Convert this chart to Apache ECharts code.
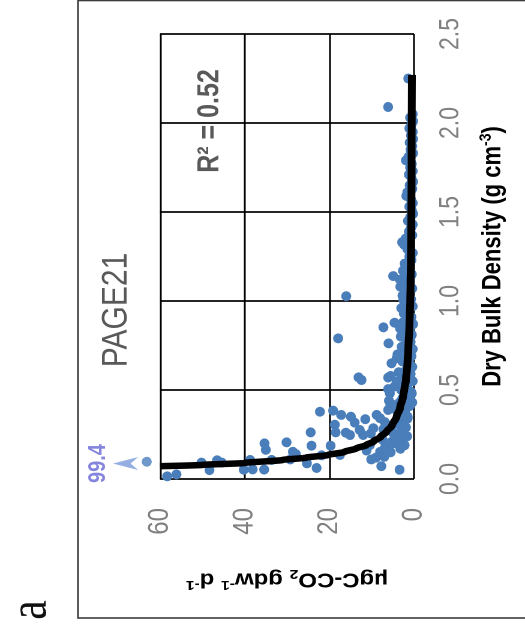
<!DOCTYPE html>
<html>
<head>
<meta charset="utf-8">
<script src="https://cdn.jsdelivr.net/npm/echarts@6/dist/echarts.min.js"></script>
<style>
  html, body { margin: 0; padding: 0; background: #fff; overflow: hidden; }
  #page { position: relative; width: 525px; height: 633px; overflow: hidden; background: #fff; }
  /* the figure is laid out landscape and turned a quarter turn counter-clockwise */
  #chart { position: absolute; left: 0; top: 0; width: 633px; height: 438px; transform-origin: 0 0; }
</style>
</head>
<body>
<div id="page"><div id="chart"></div></div>
<script>
// Soil samples: dry bulk density (g cm-3) and CO2 production (µgC-CO2 gdw-1 d-1)
const sampleDensity = [
  0.015, 0.026, 0.092, 0.050, 0.105, 0.092, 0.052, 0.107, 0.054, 0.200,
  0.164, 0.053, 0.107, 0.206, 0.153, 0.140, 0.110, 0.088, 0.262, 0.187,
  0.062, 0.378, 0.133, 0.187, 0.384, 0.305, 0.262, 0.135, 0.790, 1.027,
  0.260, 0.247, 0.350, 0.317, 0.275, 0.247, 0.336, 0.191, 0.110, 0.256,
  0.285, 0.360, 0.341, 0.153, 0.072, 0.125, 0.303, 0.388, 0.481, 0.200,
  0.416, 0.247, 0.052, 0.228, 0.322, 0.300, 0.425, 0.481, 0.360, 0.200,
  0.410, 0.336, 0.247,
  0.15, 0.17, 0.18, 0.19, 0.21, 0.22, 0.23, 0.24, 0.26, 0.27,
  0.28, 0.29, 0.31, 0.32, 0.33, 0.34, 0.37, 0.39, 0.40, 0.43,
  0.44, 0.46, 0.50, 0.52, 0.54, 0.60, 0.62, 0.66, 0.70, 0.72,
  0.80, 0.82, 0.88, 0.92, 0.96, 1.04, 1.12, 1.18, 0.12, 0.16,
  0.571, 0.556, 0.852, 0.878, 0.846, 0.762, 0.505, 0.570, 0.650, 0.678,
  0.743, 0.579, 0.547, 1.140, 1.080, 1.006, 1.315,
  2.250, 2.090,
  2.05, 2.03, 2.01, 1.99, 1.97, 1.95, 1.93, 1.91, 1.89, 1.87,
  1.85, 1.83, 1.81, 1.79, 1.77, 1.75, 1.73, 1.71, 1.69, 1.67,
  1.65, 1.63, 1.61, 1.59, 1.57, 1.55, 1.53, 1.51, 1.49, 1.47,
  1.45, 1.43, 1.41, 1.39, 1.37, 1.35, 1.33, 1.31, 1.29, 1.27,
  1.25, 1.23, 1.21, 1.19, 1.17, 1.15, 1.13, 1.11, 1.09, 1.07,
  1.05, 1.03, 1.01, 0.99, 0.97, 0.95, 0.93, 0.91, 0.89, 0.87,
  0.85, 0.83, 0.81, 0.79, 0.77, 0.75, 0.73, 0.71, 0.69, 0.67,
  0.65, 0.63, 0.61, 0.59, 0.57, 0.55, 0.53, 0.51, 0.49, 0.47,
  0.45, 0.43, 0.41, 0.39, 0.37, 0.35
];
const sampleFlux = [
  58.3, 56.1, 50.2, 48.3, 46.5, 45.4, 40.2, 38.7, 38.1, 35.3,
  35.0, 35.4, 33.6, 30.1, 28.6, 27.9, 29.2, 25.3, 24.4, 24.2,
  23.0, 22.2, 21.8, 19.7, 19.1, 18.7, 18.5, 17.5, 17.9, 16.0,
  16.1, 15.1, 14.9, 14.0, 12.8, 12.0, 11.5, 10.4, 10.1, 10.2,
  9.6, 8.8, 8.0, 8.0, 7.7, 7.0, 6.4, 6.1, 5.7, 4.9,
  4.9, 4.1, 3.4, 2.9, 2.5, 2.3, 1.7, 0.5, 17.2, 4.0,
  5.6, 2.6, 2.4,
  5.5, 3.2, 6.8, 2.2, 5.2, 7.4, 3.9, 1.6, 5.0, 3.0,
  7.2, 1.9, 4.4, 6.9, 3.6, 1.5, 3.1, 4.3, 2.2, 3.4,
  5.9, 1.4, 3.0, 4.6, 2.1, 3.6, 1.3, 2.7, 3.9, 1.9,
  3.1, 1.5, 2.6, 1.2, 3.0, 1.6, 3.3, 1.2, 9.0, 11.2,
  13.1, 12.4, 7.2, 4.6, 3.3, 6.0, 6.1, 6.1, 5.3, 4.1,
  2.9, 5.5, 4.1, 4.9, 3.2, 2.5, 2.3,
  1.35, 6.1,
  0.3, 0.9, 0.2, 0.6, 1.1, 0.3, 0.7, 0.2, 1.0, 0.4,
  0.8, 0.2, 1.3, 1.9, 0.5, 0.9, 0.3, 1.2, 0.6, 0.2,
  1.0, 0.4, 1.6, 1.8, 0.7, 0.3, 1.1, 0.5, 0.2, 0.9,
  1.4, 0.3, 0.7, 1.2, 0.4, 2.0, 2.8, 0.9, 1.5, 0.3,
  1.1, 0.6, 2.2, 1.4, 2.6, 0.5, 1.8, 0.9, 2.3, 0.4,
  1.3, 2.7, 0.7, 1.9, 0.3, 1.2, 2.4, 0.6, 1.6, 0.2,
  1.0, 2.1, 0.5, 1.4, 0.8, 2.2, 0.3, 1.7, 0.6, 2.5,
  1.1, 0.4, 1.9, 0.8, 2.6, 0.3, 1.5, 2.1, 0.7, 1.2,
  2.8, 0.4, 1.0, 2.0, 3.0, 1.5
];

// Fitted trend line
const trendDensity = [
  0.072, 0.079, 0.090, 0.107, 0.120, 0.135, 0.152, 0.172, 0.190, 0.210,
  0.237, 0.266, 0.300, 0.350, 0.400, 0.462, 0.500, 0.556, 0.630, 0.725,
  0.850, 1.000, 1.250, 1.570, 1.900, 2.270
];
const trendFlux = [
  60.0, 50.0, 40.0, 31.0, 25.5, 20.3, 16.5, 13.6, 11.3, 9.6,
  7.9, 6.5, 5.2, 4.1, 3.3, 2.6, 2.3, 1.9, 1.6, 1.35,
  1.1, 0.9, 0.7, 0.6, 0.55, 0.5
];

// Sample whose flux lies above the top of the flux axis
const offScaleDensity = [0.097];
const offScaleFlux = [99.4];

const densityTicks = [0.0, 0.5, 1.0, 1.5, 2.0, 2.5];
const fluxTicks = [0, 20, 40, 60];
const rSquared = 0.52;
const siteName = 'PAGE21';
const panelLetter = 'a';

// ---- layout (landscape frame before the quarter turn) ----
const W = 633;          // frame width  -> page height
const H = 438;          // frame height -> page width (stretched by K)
const K = 1.2;          // vertical stretch of the frame
const chartEl = document.getElementById('chart');
chartEl.style.transform = 'translate(0px, ' + W + 'px) rotate(-90deg) scaleY(' + K + ')';

const SANS = "'Liberation Sans', Arial, sans-serif";
const GRID = { left: 154, right: 34, top: 160 / K, bottom: H - 414 / K };
const FLUX_MAX = fluxTicks[fluxTicks.length - 1];
const DOT = 10;

const zip = (a, b) => a.map((v, i) => [v, b[i]]);

const chart = echarts.init(chartEl, null, { renderer: 'canvas', devicePixelRatio: 2 });

chart.setOption({
  animation: false,
  backgroundColor: 'transparent',
  grid: { left: GRID.left, right: GRID.right, top: GRID.top, bottom: GRID.bottom, containLabel: false },
  xAxis: {
    type: 'value',
    min: densityTicks[0],
    max: densityTicks[densityTicks.length - 1],
    interval: densityTicks[1] - densityTicks[0],
    axisLine: { show: false },
    axisTick: { show: false },
    axisLabel: {
      margin: 19,
      fontSize: 23,
      fontFamily: SANS,
      color: '#808080',
      formatter: v => v.toFixed(1)
    },
    splitLine: { show: true, lineStyle: { color: '#000', width: 1.7 } },
    name: '{t|Dry Bulk Density (g cm}{sup|-3}{t|)}',
    nameLocation: 'middle',
    nameGap: 53,
    nameTextStyle: {
      rich: {
        t: { fontSize: 22, fontWeight: 'bold', fontFamily: SANS, color: '#000', lineHeight: 26 },
        sup: { fontSize: 14, fontWeight: 'bold', fontFamily: SANS, color: '#000', verticalAlign: 'top', lineHeight: 26 }
      }
    }
  },
  yAxis: {
    type: 'value',
    min: fluxTicks[0],
    max: FLUX_MAX,
    interval: fluxTicks[1] - fluxTicks[0],
    axisLine: { show: false },
    axisTick: { show: false },
    axisLabel: {
      margin: 29,
      fontSize: 24,
      fontFamily: SANS,
      color: '#808080'
    },
    splitLine: { show: true, lineStyle: { color: '#000', width: 1.5 } },
    name: '{t|µgC-CO}{sub|2}{t| gdw}{sup|-1}{t| d}{sup|-1}',
    nameLocation: 'middle',
    nameGap: 88,
    nameTextStyle: {
      rich: {
        t: { fontSize: 20, fontWeight: 'bold', fontFamily: SANS, color: '#000', lineHeight: 24 },
        sub: { fontSize: 13, fontWeight: 'bold', fontFamily: SANS, color: '#000', verticalAlign: 'bottom', lineHeight: 24 },
        sup: { fontSize: 13, fontWeight: 'bold', fontFamily: SANS, color: '#000', verticalAlign: 'top', lineHeight: 24 }
      }
    }
  },
  series: [
    {
      name: 'samples',
      type: 'scatter',
      data: zip(sampleDensity, sampleFlux),
      symbol: 'circle',
      symbolSize: [DOT, DOT / K],
      itemStyle: { color: '#4A7EBB', opacity: 1 },
      z: 2
    },
    {
      name: 'trend',
      type: 'line',
      data: zip(trendDensity, trendFlux),
      smooth: 0.25,
      smoothMonotone: 'x',
      showSymbol: false,
      symbol: 'none',
      lineStyle: { color: '#000', width: 6.5, cap: 'butt', join: 'round' },
      z: 3
    },
    {
      // off-scale sample pinned just beyond the top of the flux axis
      name: 'off-scale',
      type: 'scatter',
      clip: false,
      data: zip(offScaleDensity, offScaleFlux.map(v => Math.min(v, FLUX_MAX))),
      symbol: 'circle',
      symbolSize: [DOT, DOT / K],
      symbolOffset: [0, -11],
      itemStyle: { color: '#4A7EBB' },
      z: 4
    },
    {
      name: 'off-scale arrow',
      type: 'scatter',
      clip: false,
      data: zip(offScaleDensity, offScaleFlux.map(v => Math.min(v, FLUX_MAX))),
      symbol: 'path://M10,0L20,20L10,14L0,20Z',
      symbolSize: [13, 21],
      symbolOffset: [-1.8, -28.7],
      itemStyle: { color: '#7B9BDC' },
      label: {
        show: true,
        position: 'top',
        distance: 2,
        formatter: p => offScaleFlux[p.dataIndex].toFixed(1),
        fontSize: 20,
        fontWeight: 'bold',
        fontFamily: SANS,
        color: '#6767D4'
      },
      z: 4
    }
  ],
  graphic: [
    {
      type: 'rect',
      silent: true,
      shape: { x: 15, y: 78 / K, width: 617.5, height: 600 },
      style: { fill: 'none', stroke: '#3c3c3c', lineWidth: 1.6 }
    },
    {
      type: 'text',
      silent: true,
      x: W - 310, y: 116.5 / K,
      style: {
        text: siteName, fontSize: 30, fontFamily: SANS, fill: '#595959',
        align: 'center', verticalAlign: 'middle'
      }
    },
    {
      type: 'text',
      silent: true,
      x: W - 121, y: 210 / K,
      style: {
        text: 'R² = ' + rSquared.toFixed(2), fontSize: 25, fontWeight: 'bold', fontFamily: SANS, fill: '#595959',
        align: 'center', verticalAlign: 'middle'
      }
    },
    {
      type: 'text',
      silent: true,
      x: W - 610, y: 31.5 / K,
      style: {
        text: panelLetter, fontSize: 44, fontFamily: "'Liberation Serif', 'Times New Roman', serif", fill: '#111',
        align: 'center', verticalAlign: 'middle'
      }
    }
  ]
});
</script>
</body>
</html>
